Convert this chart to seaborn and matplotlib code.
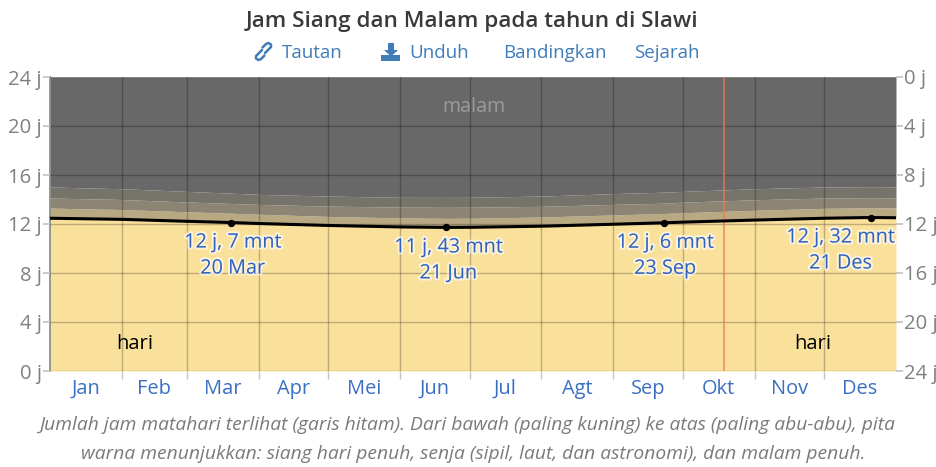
import matplotlib
matplotlib.use("Agg")
import matplotlib.pyplot as plt
import matplotlib.patheffects as pe
import seaborn as sns
import pandas as pd

days = [0, 31, 59, 78, 90, 120, 151, 171, 181, 212, 243, 265, 273, 304, 334, 354, 365]
daylight = [12.47, 12.38, 12.22, 12.12, 12.04, 11.88, 11.76, 11.72, 11.73, 11.82, 11.98, 12.10, 12.15, 12.32, 12.47, 12.53, 12.51]
civil = [13.30, 13.18, 13.00, 12.88, 12.80, 12.62, 12.50, 12.46, 12.47, 12.57, 12.74, 12.86, 12.92, 13.12, 13.28, 13.33, 13.31]
nautical = [14.12, 14.00, 13.80, 13.68, 13.60, 13.46, 13.38, 13.36, 13.37, 13.44, 13.60, 13.70, 13.78, 13.98, 14.12, 14.15, 14.13]
astro = [15.02, 14.88, 14.66, 14.52, 14.42, 14.28, 14.18, 14.17, 14.18, 14.28, 14.48, 14.60, 14.66, 14.88, 15.02, 15.05, 15.03]

month_names = ["Jan", "Feb", "Mar", "Apr", "Mei", "Jun", "Jul", "Agt", "Sep", "Okt", "Nov", "Des"]
month_edges = [0, 31, 59, 90, 120, 151, 181, 212, 243, 273, 304, 334, 365]
hour_ticks = [0, 4, 8, 12, 16, 20, 24]

mark_days = [78, 171, 265, 354]
mark_hours = [12.12, 11.72, 12.10, 12.53]
mark_time = ["12 j, 7 mnt", "11 j, 43 mnt", "12 j, 6 mnt", "12 j, 32 mnt"]
mark_date = ["20 Mar", "21 Jun", "23 Sep", "21 Des"]
today = 291

sns.set_theme(style="white")
plt.rcParams['font.family'] = ['Open Sans', 'DejaVu Sans']

W, H = 937, 467
fig = plt.figure(figsize=(W / 100, H / 100), dpi=100)
ax = fig.add_axes([50 / W, 1 - 371 / H, 846 / W, 294 / H])

df = pd.DataFrame({"day": days, "daylight": daylight})

# Bands from the bottom (day) to the top (night)
ax.fill_between(days, 0, daylight, color="#F9E09B", lw=0)
ax.fill_between(days, daylight, civil, color="#B9A983", lw=0)
ax.fill_between(days, civil, nautical, color="#8C8573", lw=0)
ax.fill_between(days, nautical, astro, color="#75736A", lw=0)
ax.fill_between(days, astro, 24, color="#686868", lw=0)

ax.set_xlim(0, 365)
ax.set_ylim(0, 24)

ax.set_xticks(month_edges[1:-1])
ax.set_xticklabels([])
ax.set_xticks([(a + b) / 2 for a, b in zip(month_edges, month_edges[1:])], minor=True)
ax.set_xticklabels(month_names, minor=True, color="#3A6FC4", fontsize=14.4)
ax.set_yticks(hour_ticks)
ax.set_yticklabels([f"{h} j" for h in hour_ticks], color="#808080", fontsize=14.6)

# Grid sits on top of the colour bands
ax.set_axisbelow(False)
ax.grid(True, color="#000000", alpha=0.24, lw=1)
ax.tick_params(axis="x", which="major", bottom=True, length=6, color="#C4C4C4", width=1)
ax.tick_params(axis="x", which="minor", bottom=False, pad=1.5)
ax.tick_params(axis="y", left=True, length=5, color="#C4C4C4", pad=1)
for s in ax.spines.values():
    s.set_visible(False)
ax.spines["left"].set_visible(True)
ax.spines["left"].set_color("#8A8A80")

ax2 = ax.twinx()
ax2.set_ylim(24, 0)
ax2.set_yticks(hour_ticks)
ax2.set_yticklabels([f"{h} j" for h in hour_ticks], color="#808080", fontsize=14.6)
ax2.tick_params(axis="y", right=True, length=5, color="#C4C4C4", pad=1)
ax2.grid(False)
for s in ax2.spines.values():
    s.set_visible(False)

ax.axvline(today, color="#F07850", lw=1.2, alpha=0.8, zorder=3)

sns.lineplot(data=df, x="day", y="daylight", ax=ax, color="black", lw=2.2, estimator=None, sort=False, legend=False, zorder=4)
sns.scatterplot(x=mark_days, y=mark_hours, ax=ax, color="black", s=28, linewidth=0, zorder=5, legend=False)
ax.set_xlabel("")
ax.set_ylabel("")

# Labels below the marked days
glow = [pe.withStroke(linewidth=3, foreground="#FFFFFF", alpha=0.6)]
offs = [2, 2, 1, -30]
for d, h, t, dt, o in zip(mark_days, mark_hours, mark_time, mark_date, offs):
    ax.annotate(t, (d, h), xytext=(o, -10), textcoords="offset pixels", ha="center", va="top",
                color="#2F62C0", fontsize=14.3, path_effects=glow, zorder=6)
    ax.annotate(dt, (d, h), xytext=(o, -36), textcoords="offset pixels", ha="center", va="top",
                color="#2F62C0", fontsize=14.3, path_effects=glow, zorder=6)

# Overlay in pixel coordinates for text around the plot
ov = fig.add_axes([0, 0, 1, 1], zorder=10)
ov.set_xlim(0, W)
ov.set_ylim(H, 0)
ov.axis("off")
ov.patch.set_alpha(0)

ov.text(474, 107, "malam", color="#9A9A9A", fontsize=14.2, ha="center", va="center")
ov.text(135, 344, "hari", color="black", fontsize=14.6, ha="center", va="center")
ov.text(813, 344, "hari", color="black", fontsize=14.6, ha="center", va="center")

ov.text(472.5, 22, "Jam Siang dan Malam pada tahun di Slawi", color="#3A3A3A", fontsize=16.2,
        fontweight="semibold", ha="center", va="center")

link_blue = "#3F7CB8"
ov.text(312, 53.5, "Tautan", color=link_blue, fontsize=13.5, ha="center", va="center")
ov.text(439, 53.5, "Unduh", color=link_blue, fontsize=13.5, ha="center", va="center")
ov.text(554.5, 53.5, "Bandingkan", color=link_blue, fontsize=13.5, ha="center", va="center")
ov.text(667, 53.5, "Sejarah", color=link_blue, fontsize=13.5, ha="center", va="center")

# Link icon
ov.plot([262, 256, 256, 258.5, 261, 264.5], [50, 56, 58.5, 60, 59, 55.5], color=link_blue, lw=1.8, solid_capstyle="round")
ov.plot([265, 271, 271, 268.5, 266, 262.5], [53, 47, 44.5, 43, 44, 47.5], color=link_blue, lw=1.8, solid_capstyle="round")

# Download icon
ov.fill([388, 394, 394, 398, 391, 384, 388], [43, 43, 50, 50, 56.5, 50, 50], color=link_blue, lw=0)
ov.fill([381.5, 400.5, 400.5, 381.5], [55, 55, 61, 61], color=link_blue, lw=0)

cap = "#7A7A7A"
ov.text(467, 425, "Jumlah jam matahari terlihat (garis hitam). Dari bawah (paling kuning) ke atas (paling abu-abu), pita",
        color=cap, fontsize=13.85, style="italic", ha="center", va="center")
ov.text(473, 454, "warna menunjukkan: siang hari penuh, senja (sipil, laut, dan astronomi), dan malam penuh.",
        color=cap, fontsize=13.85, style="italic", ha="center", va="center")

fig.savefig("out.png", dpi=100, facecolor="white")
